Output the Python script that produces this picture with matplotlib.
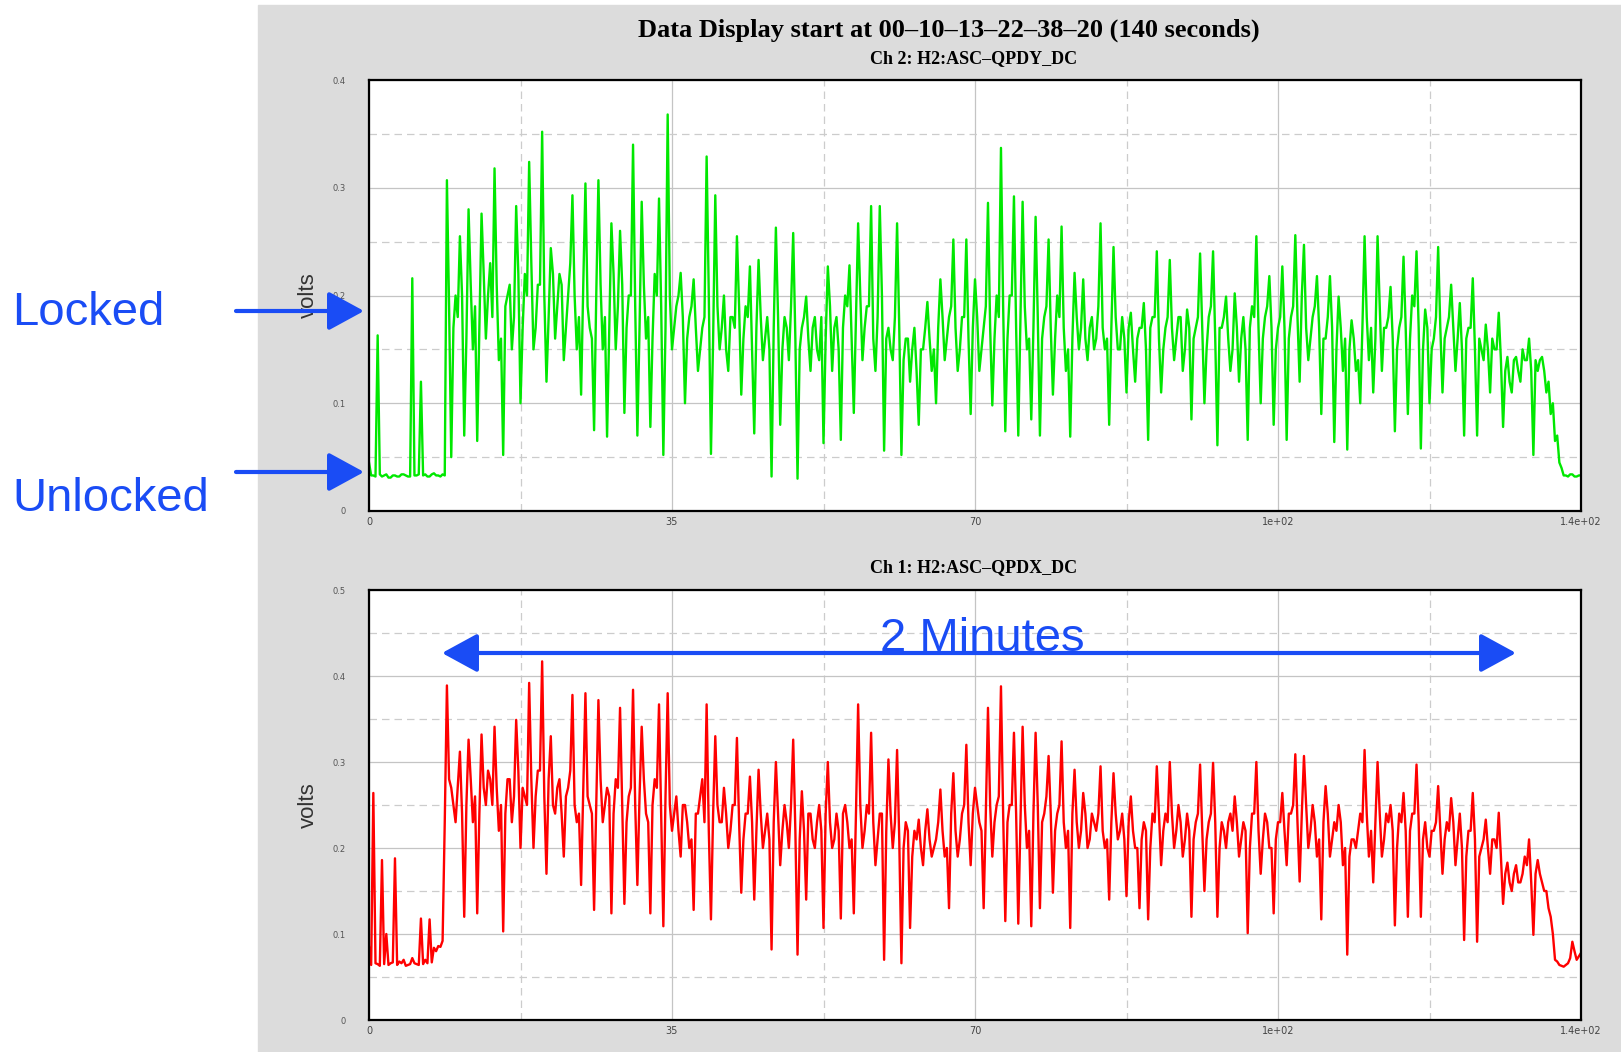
import numpy as np
import matplotlib
matplotlib.use("Agg")
import matplotlib.pyplot as plt
from matplotlib.patches import Rectangle, FancyArrowPatch

# readings in millivolts.
# *_peaks: the swing (spike top or dip) every 0.5 s, starting at t=0
# *_core:  the level of the dense band in between, at t=0.25, 0.75, ...
SAMPLE_STEP = 0.5

# Ch 2: H2:ASC-QPDY_DC (green, top panel), one row = 5 seconds
ch2_peaks = [
    45, 33, 163, 32, 34, 31, 33, 32, 34, 32,
    216, 33, 120, 34, 32, 35, 33, 34, 307, 50,
    200, 255, 70, 280, 150, 65, 276, 160, 230, 318,
    140, 52, 200, 150, 283, 100, 220, 324, 150, 210,
    352, 120, 244, 160, 220, 140, 200, 293, 150, 108,
    304, 170, 75, 307, 150, 69, 267, 150, 260, 91,
    200, 340, 70, 287, 160, 78, 220, 290, 52, 368,
    150, 190, 221, 100, 180, 215, 130, 170, 329, 53,
    293, 150, 200, 130, 180, 255, 108, 190, 227, 72,
    233, 140, 180, 32, 263, 80, 180, 140, 258, 30,
    170, 199, 130, 180, 140, 63, 227, 130, 180, 66,
    200, 228, 91, 267, 140, 190, 283, 130, 283, 56,
    170, 140, 267, 52, 160, 120, 170, 80, 150, 194,
    130, 100, 215, 140, 180, 252, 130, 180, 252, 90,
    215, 130, 170, 286, 98, 200, 337, 74, 200, 292,
    70, 287, 150, 85, 273, 70, 180, 252, 108, 200,
    264, 130, 69, 221, 150, 215, 140, 180, 160, 267,
    150, 80, 245, 150, 180, 110, 184, 120, 170, 193,
    66, 180, 241, 110, 170, 233, 140, 180, 130, 187,
    85, 170, 239, 100, 180, 241, 61, 170, 199, 130,
    202, 120, 180, 66, 190, 255, 100, 180, 218, 80,
    170, 227, 66, 180, 256, 120, 247, 140, 180, 218,
    90, 160, 218, 64, 199, 130, 57, 177, 130, 100,
    255, 140, 110, 255, 130, 170, 208, 74, 170, 236,
    90, 200, 241, 58, 187, 100, 160, 245, 110, 170,
    210, 130, 193, 70, 170, 216, 70, 150, 173, 110,
    150, 184, 78, 143, 110, 143, 120, 140, 160, 52,
    130, 143, 110, 90, 65, 45, 33, 32, 34, 32,
    33,
]
ch2_core = [
    33, 32, 34, 33, 31, 33, 32, 34, 33, 32,
    33, 34, 33, 32, 34, 33, 32, 33, 190, 170,
    180, 200, 160, 210, 190, 170, 220, 200, 180, 210,
    160, 190, 210, 180, 220, 170, 200, 230, 170, 210,
    200, 180, 220, 190, 210, 170, 230, 200, 180, 210,
    190, 160, 200, 210, 180, 170, 220, 190, 210, 170,
    200, 190, 170, 210, 180, 160, 200, 190, 170, 200,
    170, 200, 180, 160, 190, 170, 150, 180, 200, 160,
    190, 170, 150, 180, 170, 190, 160, 180, 150, 170,
    180, 160, 150, 170, 180, 150, 170, 190, 160, 150,
    180, 160, 170, 150, 180, 160, 190, 170, 150, 170,
    190, 160, 180, 200, 170, 190, 160, 180, 200, 160,
    150, 180, 170, 140, 160, 150, 130, 150, 170, 160,
    150, 170, 180, 160, 190, 170, 150, 180, 160, 170,
    180, 150, 190, 170, 160, 180, 190, 160, 200, 170,
    180, 190, 160, 170, 180, 160, 190, 170, 160, 180,
    170, 150, 160, 180, 170, 160, 170, 150, 190, 170,
    160, 170, 180, 150, 160, 170, 150, 160, 170, 150,
    170, 180, 160, 150, 180, 170, 160, 180, 150, 170,
    160, 180, 170, 150, 190, 160, 170, 180, 160, 150,
    170, 160, 150, 170, 180, 170, 160, 190, 170, 150,
    180, 170, 160, 190, 180, 200, 170, 160, 190, 170,
    160, 180, 170, 150, 170, 160, 150, 160, 140, 170,
    180, 170, 160, 190, 170, 180, 160, 150, 180, 170,
    160, 190, 170, 150, 170, 150, 180, 170, 160, 180,
    170, 160, 150, 160, 170, 150, 160, 140, 150, 160,
    150, 140, 130, 120, 140, 130, 150, 140, 130, 140,
    140, 130, 120, 100, 70, 40, 33, 34, 32, 33,
]

# Ch 1: H2:ASC-QPDX_DC (red, bottom panel)
ch1_peaks = [
    85, 264, 65, 186, 100, 66, 188, 68, 70, 64,
    72, 65, 118, 70, 117, 84, 86, 92, 389, 270,
    230, 312, 120, 326, 230, 124, 332, 250, 280, 341,
    220, 103, 280, 230, 349, 200, 260, 392, 200, 290,
    417, 170, 330, 240, 280, 190, 270, 378, 230, 157,
    380, 250, 128, 372, 230, 270, 124, 280, 363, 135,
    260, 384, 157, 341, 240, 124, 280, 367, 109, 380,
    220, 260, 190, 250, 200, 128, 240, 280, 367, 117,
    330, 230, 270, 200, 250, 328, 148, 240, 283, 140,
    291, 200, 240, 82, 300, 180, 250, 200, 326, 76,
    266, 140, 240, 200, 250, 107, 300, 200, 240, 118,
    250, 200, 124, 367, 200, 250, 334, 180, 240, 70,
    303, 200, 314, 66, 230, 107, 220, 233, 180, 245,
    190, 210, 268, 190, 130, 287, 190, 240, 320, 180,
    270, 230, 130, 363, 190, 250, 388, 115, 250, 334,
    112, 341, 200, 109, 334, 130, 240, 307, 148, 240,
    324, 200, 107, 291, 200, 264, 200, 240, 220, 295,
    200, 140, 287, 210, 240, 144, 260, 200, 130, 230,
    117, 240, 295, 180, 240, 300, 200, 250, 190, 240,
    120, 230, 297, 150, 230, 299, 120, 230, 200, 240,
    260, 190, 230, 101, 240, 300, 170, 240, 200, 124,
    230, 264, 180, 240, 309, 161, 307, 200, 250, 190,
    117, 272, 190, 230, 250, 180, 76, 210, 200, 240,
    314, 190, 160, 300, 190, 240, 250, 110, 240, 264,
    120, 240, 297, 120, 230, 190, 220, 272, 170, 230,
    258, 180, 240, 93, 220, 264, 91, 200, 233, 170,
    210, 241, 135, 183, 150, 180, 160, 190, 210, 99,
    186, 160, 150, 120, 70, 64, 62, 66, 91, 70,
    78,
]
ch1_core = [
    64, 66, 63, 65, 64, 67, 64, 66, 63, 65,
    66, 64, 65, 66, 67, 80, 85, 230, 280, 250,
    270, 240, 250, 280, 260, 240, 270, 290, 250, 270,
    250, 240, 280, 260, 290, 270, 250, 280, 260, 290,
    260, 280, 250, 270, 240, 260, 290, 250, 240, 270,
    260, 240, 250, 280, 250, 260, 240, 270, 250, 230,
    270, 250, 260, 280, 230, 250, 270, 240, 260, 250,
    240, 220, 250, 230, 210, 240, 260, 230, 220, 240,
    250, 230, 240, 220, 250, 230, 210, 240, 230, 220,
    240, 220, 210, 230, 240, 220, 230, 250, 220, 210,
    220, 240, 210, 230, 220, 240, 230, 210, 220, 240,
    230, 210, 240, 250, 220, 240, 230, 210, 240, 220,
    240, 230, 210, 200, 220, 190, 210, 200, 220, 210,
    200, 230, 220, 200, 240, 220, 210, 250, 230, 240,
    250, 220, 240, 250, 230, 260, 240, 230, 250, 240,
    230, 250, 220, 240, 250, 230, 260, 240, 220, 250,
    230, 220, 240, 230, 220, 240, 210, 230, 240, 220,
    210, 230, 240, 220, 210, 230, 220, 200, 210, 220,
    200, 230, 240, 220, 230, 240, 220, 230, 210, 220,
    210, 240, 220, 210, 240, 230, 200, 220, 230, 220,
    230, 210, 220, 200, 240, 220, 210, 230, 200, 210,
    230, 220, 240, 250, 230, 240, 250, 220, 230, 210,
    230, 240, 210, 220, 230, 200, 190, 210, 220, 230,
    240, 220, 230, 240, 210, 230, 220, 200, 230, 220,
    220, 240, 230, 210, 200, 220, 230, 220, 210, 220,
    230, 210, 200, 190, 220, 210, 190, 210, 200, 210,
    200, 190, 170, 160, 170, 160, 170, 180, 160, 170,
    170, 150, 130, 100, 68, 63, 64, 72, 80, 74,
]

title = "Data Display start at 00\u201310\u201313\u201322\u201338\u201320 (140 seconds)"
ch2_name = "Ch 2: H2:ASC\u2013QPDY_DC"
ch1_name = "Ch 1: H2:ASC\u2013QPDX_DC"
x_ticks = [0, 35, 70, 105, 140]
x_tick_labels = ["0", "35", "70", "1e+02", "1.4e+02"]
x_minor = [17.5, 52.5, 87.5, 122.5]
ch2_yticks = [0, 0.1, 0.2, 0.3, 0.4]
ch1_yticks = [0, 0.1, 0.2, 0.3, 0.4, 0.5]

assert len(ch2_peaks) == 281 and len(ch1_peaks) == 281
assert len(ch2_core) == 280 and len(ch1_core) == 280

W, H = 1621, 1052
BLUE = "#1a4cf5"


def fx(px):
    return px / W


def fy(py):
    return 1 - py / H


def trace(peaks, core):
    # put the band readings between the swings -> one value every 0.25 s
    v = np.empty(len(peaks) + len(core))
    v[0::2] = peaks
    v[1::2] = core
    t = np.arange(len(v)) * SAMPLE_STEP / 2
    return t, v / 1000


def style_axes(ax, yticks):
    ax.set_zorder(1)
    ax.set_xlim(0, 140)
    ax.set_ylim(yticks[0], yticks[-1])
    ax.set_xticks(x_ticks, x_tick_labels)
    ax.set_xticks(x_minor, minor=True)
    ax.set_yticks(yticks, [f"{v:g}" for v in yticks])
    ax.set_yticks([(a + b) / 2 for a, b in zip(yticks[:-1], yticks[1:])], minor=True)
    ax.grid(which="major", color="#c4c4c4", lw=0.9)
    ax.grid(which="minor", color="#cccccc", lw=0.9, ls=(0, (6, 4)))
    ax.set_axisbelow(True)
    ax.tick_params(which="both", length=0)
    ax.tick_params(axis="x", pad=4, labelsize=7, labelcolor="#444444")
    ax.tick_params(axis="y", pad=17, labelsize=6, labelcolor="#555555")
    for s in ax.spines.values():
        s.set_linewidth(1.6)
    ax.set_ylabel("volts", fontsize=16, family="Liberation Sans", color="#333333")
    ax.yaxis.set_label_coords(-0.050, 0.5)
    ax.yaxis.label.set_va("center")


fig = plt.figure(figsize=(W / 100, H / 100), dpi=100)
fig.patches.append(Rectangle((fx(258), 0), 1 - fx(258), fy(5),
                             transform=fig.transFigure, color="#dcdcdc", zorder=-1))

ax_top = fig.add_axes([fx(369), fy(511), 1212 / W, 431 / H])
ax_top.plot(*trace(ch2_peaks, ch2_core), color="#00e800", lw=1.7)
style_axes(ax_top, ch2_yticks)

ax_bot = fig.add_axes([fx(369), fy(1020), 1212 / W, 430 / H])
ax_bot.plot(*trace(ch1_peaks, ch1_core), color="#ff0000", lw=1.7)
style_axes(ax_bot, ch1_yticks)

serif = dict(family="Liberation Serif", weight="bold", ha="center", va="center", zorder=5)
fig.text(fx(949), fy(30), title, fontsize=19, **serif)
fig.text(fx(974), fy(59), ch2_name, fontsize=13, **serif)
fig.text(fx(974), fy(568), ch1_name, fontsize=13, **serif)

# blue slide annotations
sans = dict(family="Liberation Sans", color=BLUE, fontsize=34, va="baseline", zorder=6)
fig.text(fx(12), fy(325), "Locked", ha="left", **sans)
fig.text(fx(12), fy(511), "Unlocked", ha="left", **sans)
fig.text(fx(982), fy(651), "2 Minutes", ha="center", **sans)

for y in (311, 472):
    fig.add_artist(FancyArrowPatch((fx(236), fy(y)), (fx(364), fy(y)),
                                   transform=fig.transFigure,
                                   arrowstyle="-|>,head_length=1.1,head_width=0.6",
                                   mutation_scale=20, color=BLUE, lw=3,
                                   shrinkA=0, shrinkB=0, zorder=6))
fig.add_artist(FancyArrowPatch((fx(442), fy(653)), (fx(1516), fy(653)),
                               transform=fig.transFigure,
                               arrowstyle="<|-|>,head_length=1.1,head_width=0.6",
                               mutation_scale=20, color=BLUE, lw=3,
                               shrinkA=0, shrinkB=0, zorder=6))

fig.savefig("out.png", dpi=100)
